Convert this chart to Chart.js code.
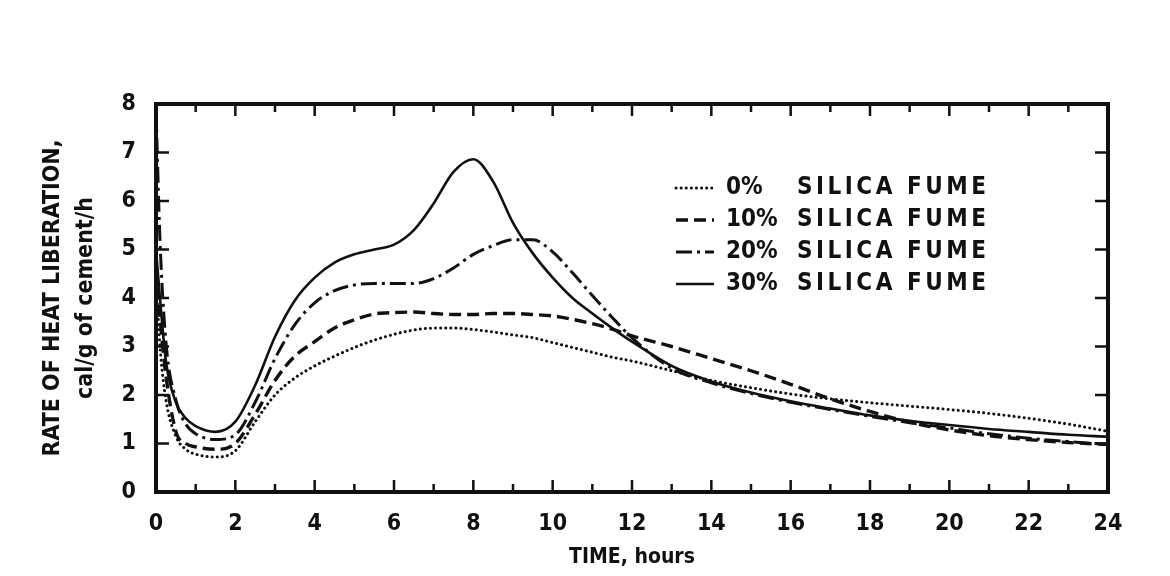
<!DOCTYPE html>
<html>
<head>
<meta charset="utf-8">
<title>Rate of heat liberation</title>
<script src="https://cdn.jsdelivr.net/npm/chart.js@4.4.1/dist/chart.umd.min.js"></script>
<style>
  html, body { margin: 0; padding: 0; background: #fff; }
</style>
</head>
<body>
<canvas id="heat-chart" width="1170" height="576"></canvas>
<script>
// Time axis (hours) shared by all four curves
const HOURS = [0, 0.1, 0.25, 0.5, 0.75, 1, 1.5, 2, 2.5, 3, 3.5, 4, 4.5, 5, 5.5, 6, 6.5, 7, 7.5, 8,
  8.5, 9, 9.5, 10, 10.5, 11, 11.5, 12, 13, 14, 15, 16, 17, 18, 19, 20, 21, 22, 23, 24];

// Rate of heat liberation, cal/g of cement/h
const SF0 = [4.4, 3.0, 1.9, 1.15, 0.88, 0.78, 0.72, 0.85, 1.45, 2.0, 2.35, 2.6, 2.8, 2.98, 3.13, 3.25, 3.34, 3.38, 3.38, 3.35,
  3.3, 3.24, 3.18, 3.08, 2.98, 2.88, 2.78, 2.7, 2.5, 2.3, 2.15, 2.02, 1.92, 1.84, 1.77, 1.7, 1.62, 1.52, 1.4, 1.25];
const SF10 = [4.6, 3.6, 2.4, 1.25, 1.0, 0.93, 0.88, 1.0, 1.6, 2.3, 2.8, 3.1, 3.38, 3.55, 3.67, 3.7, 3.71, 3.68, 3.66, 3.66,
  3.68, 3.68, 3.66, 3.63, 3.56, 3.47, 3.36, 3.22, 3.0, 2.75, 2.5, 2.22, 1.92, 1.66, 1.44, 1.28, 1.16, 1.08, 1.02, 0.98];
const SF20 = [7.9, 5.2, 3.1, 1.9, 1.4, 1.2, 1.08, 1.18, 1.85, 2.75, 3.45, 3.9, 4.15, 4.27, 4.3, 4.3, 4.3, 4.4, 4.62, 4.9,
  5.08, 5.2, 5.2, 4.95, 4.52, 4.05, 3.6, 3.18, 2.55, 2.25, 2.03, 1.85, 1.7, 1.56, 1.43, 1.32, 1.2, 1.11, 1.04, 0.98];
const SF30 = [5.0, 4.0, 2.7, 1.85, 1.52, 1.36, 1.24, 1.45, 2.2, 3.2, 3.95, 4.42, 4.73, 4.9, 5.0, 5.1, 5.4, 5.95, 6.6, 6.86,
  6.4, 5.55, 4.92, 4.42, 4.0, 3.68, 3.38, 3.1, 2.6, 2.28, 2.05, 1.87, 1.72, 1.58, 1.47, 1.38, 1.3, 1.24, 1.18, 1.14];

const SERIES_LABELS = ['0%', '10%', '20%', '30%'];
const LEGEND_SUFFIX = 'SILICA FUME';
const X_TICKS = [0, 2, 4, 6, 8, 10, 12, 14, 16, 18, 20, 22, 24];

const INK = '#111';
const NARROW = '"Liberation Sans Narrow", "DejaVu Sans Condensed", "Roboto Condensed", sans-serif';

const toPoints = (vals) => HOURS.map((h, i) => ({ x: h, y: vals[i] }));

const STYLES = [
  { dash: [0.1, 5], width: 3, cap: 'round' },
  { dash: [12, 6], width: 3.4, cap: 'butt' },
  { dash: [16, 5, 3, 5], width: 3, cap: 'butt' },
  { dash: [], width: 2.6, cap: 'butt' },
];

// Frame with inward tick marks, plus the in-plot legend
const framePlugin = {
  id: 'frame',
  afterDatasetsDraw(chart) {
    const { ctx, chartArea: a, scales: { x, y } } = chart;
    ctx.save();
    ctx.strokeStyle = INK;
    ctx.setLineDash([]);
    ctx.lineWidth = 4;
    ctx.strokeRect(a.left, a.top, a.right - a.left, a.bottom - a.top);

    ctx.lineWidth = 2.5;
    ctx.beginPath();
    for (let h = 1; h < 24; h++) {
      const px = x.getPixelForValue(h);
      const len = h % 2 === 0 ? 12 : 8;
      ctx.moveTo(px, a.bottom); ctx.lineTo(px, a.bottom - len);
      ctx.moveTo(px, a.top); ctx.lineTo(px, a.top + len);
    }
    for (let v = 1; v < 8; v++) {
      const py = y.getPixelForValue(v);
      ctx.moveTo(a.left, py); ctx.lineTo(a.left + 13, py);
      ctx.moveTo(a.right, py); ctx.lineTo(a.right - 13, py);
    }
    ctx.stroke();

    // legend rows
    const rowY = [188, 220, 252, 284];
    chart.data.datasets.forEach((ds, i) => {
      const yy = rowY[i];
      ctx.setLineDash(ds.borderDash || []);
      ctx.lineCap = ds.borderCapStyle || 'butt';
      ctx.lineWidth = ds.borderWidth;
      ctx.beginPath();
      ctx.moveTo(676, yy);
      ctx.lineTo(714, yy);
      ctx.stroke();
    });
    ctx.setLineDash([]);
    ctx.fillStyle = INK;
    ctx.font = 'bold 24px ' + NARROW;
    ctx.textBaseline = 'middle';
    ctx.textAlign = 'left';
    SERIES_LABELS.forEach((lab, i) => {
      ctx.letterSpacing = '0px';
      ctx.fillText(lab, 726, rowY[i]);
      ctx.letterSpacing = '3.5px';
      ctx.fillText(LEGEND_SUFFIX, 797, rowY[i]);
    });
    ctx.letterSpacing = '0px';
    ctx.restore();
  },
};

const datasets = [SF0, SF10, SF20, SF30].map((vals, i) => ({
  label: SERIES_LABELS[i] + ' ' + LEGEND_SUFFIX,
  data: toPoints(vals),
  borderColor: INK,
  borderWidth: STYLES[i].width,
  borderDash: STYLES[i].dash,
  borderCapStyle: STYLES[i].cap,
  pointRadius: 0,
  fill: false,
  cubicInterpolationMode: 'monotone',
}));

new Chart(document.getElementById('heat-chart'), {
  type: 'line',
  data: { datasets },
  options: {
    responsive: false,
    animation: false,
    layout: { padding: { top: 104, right: 62, left: 0, bottom: 0 } },
    plugins: { legend: { display: false }, tooltip: { enabled: false } },
    scales: {
      x: {
        type: 'linear',
        min: 0,
        max: 24,
        afterBuildTicks: (s) => { s.ticks = X_TICKS.map((v) => ({ value: v })); },
        afterFit: (s) => { s.height = 84; },
        grid: { display: false },
        border: { display: false },
        ticks: { color: INK, padding: 10, maxRotation: 0, font: { family: NARROW, size: 23, weight: 'bold' } },
        title: {
          display: true,
          text: 'TIME, hours',
          color: INK,
          font: { family: NARROW, size: 21, weight: 'bold' },
          padding: { top: 0, bottom: 6 },
        },
      },
      y: {
        min: 0,
        max: 8,
        afterFit: (s) => { s.width = 156; },
        grid: { display: false },
        border: { display: false },
        ticks: { stepSize: 1, color: INK, padding: 12, font: { family: NARROW, size: 23, weight: 'bold' } },
        title: {
          display: true,
          text: ['RATE OF HEAT LIBERATION,', 'cal/g of cement/h'],
          color: INK,
          font: { family: NARROW, size: 23, weight: 'bold', lineHeight: 1.45 },
          padding: { top: 36, bottom: 0 },
        },
      },
    },
  },
  plugins: [framePlugin],
});
</script>
</body>
</html>
